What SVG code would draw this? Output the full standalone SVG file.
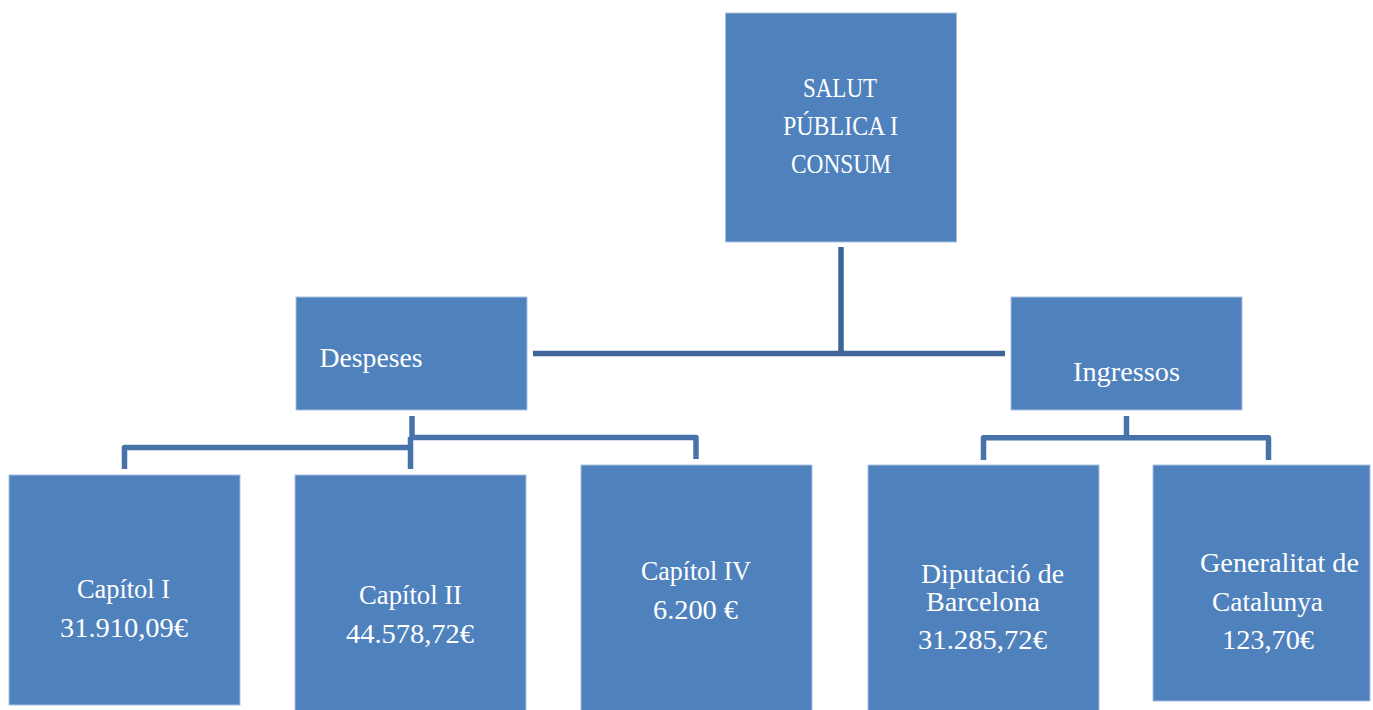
<svg xmlns="http://www.w3.org/2000/svg" width="1373" height="710" viewBox="0 0 1373 710">
<style>
.box{fill:#4F81BD;stroke:#A9C1E0;stroke-width:1}
.t{font-family:"Liberation Serif","Times New Roman",serif;font-size:27.5px;fill:#FFFFFF}
.c1{fill:none;stroke:#3F6598;stroke-width:5.5}
.c2{fill:none;stroke:#4772AA;stroke-width:5.5;stroke-linejoin:round}
</style>
<rect width="1373" height="710" fill="#FFFFFF"/>
<g id="connectors">
<line class="c1" x1="841" y1="247" x2="841" y2="356"/>
<line class="c1" x1="533" y1="353.5" x2="1005" y2="353.5"/>
<line class="c2" x1="412" y1="416" x2="412" y2="440"/>
<line class="c2" x1="410.5" y1="437" x2="410.5" y2="469"/>
<path class="c2" d="M124.5 469 V447.5 H410"/>
<path class="c2" d="M413 437.5 H696 V459"/>
<line class="c2" x1="1126.5" y1="416" x2="1126.5" y2="437"/>
<path class="c2" d="M983.5 460 V437.8 H1268.5 V460"/>
</g>
<g id="salut">
<rect class="box" x="725.5" y="13" width="231" height="229"/>
<text class="t" x="803" y="97" textLength="74" lengthAdjust="spacingAndGlyphs">SALUT</text>
<text class="t" x="783" y="135" textLength="115" lengthAdjust="spacingAndGlyphs">PÚBLICA I</text>
<text class="t" x="791" y="173" textLength="100" lengthAdjust="spacingAndGlyphs">CONSUM</text>
</g>
<g id="despeses">
<rect class="box" x="296" y="297" width="231" height="113"/>
<text class="t" x="319.5" y="367" textLength="103" lengthAdjust="spacingAndGlyphs">Despeses</text>
</g>
<g id="ingressos">
<rect class="box" x="1011" y="297" width="231" height="113"/>
<text class="t" x="1073" y="381" textLength="107" lengthAdjust="spacingAndGlyphs">Ingressos</text>
</g>
<g id="capitol1">
<rect class="box" x="9" y="475" width="231" height="230"/>
<text class="t" x="77" y="598" textLength="93" lengthAdjust="spacingAndGlyphs">Capítol I</text>
<text class="t" x="60" y="637" textLength="128" lengthAdjust="spacingAndGlyphs">31.910,09€</text>
</g>
<g id="capitol2">
<rect class="box" x="295" y="475" width="231" height="240"/>
<text class="t" x="359" y="604" textLength="103" lengthAdjust="spacingAndGlyphs">Capítol II</text>
<text class="t" x="346" y="643" textLength="128" lengthAdjust="spacingAndGlyphs">44.578,72€</text>
</g>
<g id="capitol4">
<rect class="box" x="581" y="465" width="231" height="250"/>
<text class="t" x="641" y="580" textLength="110" lengthAdjust="spacingAndGlyphs">Capítol IV</text>
<text class="t" x="653" y="619" textLength="85" lengthAdjust="spacingAndGlyphs">6.200 €</text>
</g>
<g id="diputacio">
<rect class="box" x="868" y="465" width="231" height="250"/>
<text class="t" x="921" y="583" textLength="143" lengthAdjust="spacingAndGlyphs">Diputació de</text>
<text class="t" x="926" y="611" textLength="114" lengthAdjust="spacingAndGlyphs">Barcelona</text>
<text class="t" x="918" y="649" textLength="129" lengthAdjust="spacingAndGlyphs">31.285,72€</text>
</g>
<g id="generalitat">
<rect class="box" x="1153" y="465" width="217" height="236"/>
<text class="t" x="1200" y="572" textLength="159" lengthAdjust="spacingAndGlyphs">Generalitat de</text>
<text class="t" x="1212" y="611" textLength="111" lengthAdjust="spacingAndGlyphs">Catalunya</text>
<text class="t" x="1222" y="649" textLength="92" lengthAdjust="spacingAndGlyphs">123,70€</text>
</g>
</svg>
